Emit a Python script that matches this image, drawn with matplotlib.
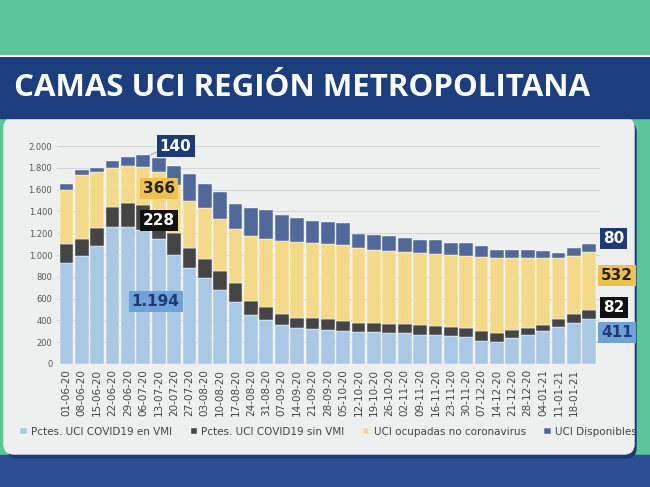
import matplotlib
matplotlib.use("Agg")
import matplotlib.pyplot as plt
from matplotlib.patches import Rectangle, FancyBboxPatch
import numpy as np

dates = ["01-06-20","08-06-20","15-06-20","22-06-20","29-06-20","06-07-20","13-07-20","20-07-20",
         "27-07-20","03-08-20","10-08-20","17-08-20","24-08-20","31-08-20","07-09-20","14-09-20",
         "21-09-20","28-09-20","05-10-20","12-10-20","19-10-20","26-10-20","02-11-20","09-11-20",
         "16-11-20","23-11-20","30-11-20","07-12-20","14-12-20","21-12-20","28-12-20","04-01-21",
         "11-01-21","18-01-21",""]
vmi = [930,990,1080,1260,1260,1230,1150,1000,880,790,680,570,450,400,360,330,320,310,300,290,290,
       280,280,270,270,260,250,210,200,240,270,300,340,380,411]
sin_vmi_top = [1100,1150,1250,1440,1480,1460,1380,1200,1060,960,850,740,580,520,460,420,420,410,390,
               380,380,370,370,360,350,340,330,300,280,310,330,360,410,460,493]
nocov_top = [1600,1730,1760,1800,1820,1810,1760,1640,1500,1430,1330,1240,1170,1150,1130,1120,1110,
             1100,1090,1060,1050,1040,1030,1020,1010,1000,990,980,970,970,970,970,970,990,1025]
total = [1650,1780,1800,1860,1900,1920,1890,1820,1740,1650,1580,1470,1430,1410,1370,1340,1310,1300,
         1290,1190,1180,1170,1160,1140,1140,1110,1110,1080,1050,1050,1050,1040,1020,1060,1105]
legend_labels = ["Pctes. UCI COVID19 en VMI","Pctes. UCI COVID19 sin VMI",
                 "UCI ocupadas no coronavirus","UCI Disponibles"]
colors = ["#a9c8e6","#454545","#f4d98a","#51699a"]

vmi = np.array(vmi); s = np.array(sin_vmi_top); n = np.array(nocov_top); t = np.array(total)
fig = plt.figure(figsize=(6.5,4.87), dpi=100)
bg = fig.add_axes([0,0,1,1]); bg.set_xlim(0,650); bg.set_ylim(487,0); bg.axis("off")
bg.add_patch(Rectangle((0,0),650,487,color="#5cc597"))
bg.add_patch(Rectangle((0,455),650,32,color="#2c4f93"))
bg.add_patch(FancyBboxPatch((8,122),628,336,boxstyle="round,pad=0,rounding_size=10",color="#1d3a74"))
bg.add_patch(FancyBboxPatch((4,118),630,336,boxstyle="round,pad=0,rounding_size=10",color="#eef0f0"))
bg.add_patch(Rectangle((0,56),650,62,color="#1d3e7c"))
bg.plot([0,650],[56,56],color="white",lw=1.5)
bg.text(14,88,"CAMAS UCI REGIÓN METROPOLITANA",color="white",fontsize=22.5,
        fontweight="bold",va="center",ha="left",family="Open Sans")

ax = fig.add_axes([0.088,0.2526,0.835,0.4475])
ax.set_facecolor("none")
x = np.arange(len(vmi))
w = 0.9
kw = dict(edgecolor="#ffffff", linewidth=0.3)
ax.bar(x, vmi, w, color=colors[0], label=legend_labels[0], **kw)
ax.bar(x, s-vmi, w, bottom=vmi, color=colors[1], label=legend_labels[1], **kw)
ax.bar(x, n-s, w, bottom=s, color=colors[2], label=legend_labels[2], **kw)
ax.bar(x, t-n, w, bottom=n, color=colors[3], label=legend_labels[3], **kw)
ax.set_ylim(0,2000); ax.set_xlim(-0.6,len(x)-0.3)
ax.set_yticks(range(0,2001,200))
ax.set_yticklabels([f"{v:,}".replace(",",".") for v in range(0,2001,200)],fontsize=6,color="#555555")
ax.yaxis.grid(True,color="#d6d6d6",lw=0.8); ax.set_axisbelow(True)
ax.set_xticks(x[:-1]); ax.set_xticklabels(dates[:-1],rotation=90,fontsize=7.5,color="#444444")
ax.tick_params(length=0)
for sp in ax.spines.values(): sp.set_visible(False)
def box(xx,yy,txt,fc,tc="white",fs=11):
    ax.text(xx,yy,txt,fontsize=fs,fontweight="bold",color=tc,ha="center",va="center",
            bbox=dict(boxstyle="square,pad=0.2",fc=fc,ec="none"),clip_on=False)
ax.plot([5.5,6.5],[1920,1990],color="#aaaaaa",lw=0.8)
box(7.1,2000,"140","#1d3a74")
box(6.0,1610,"366","#f0c24b","#222222")
box(6.0,1320,"228","#111111")
box(5.8,570,"1.194","#6fa2d6","#1d3a74")
box(35.6,1150,"80","#1d3a74")
box(35.8,810,"532","#f0c24b","#222222")
box(35.6,520,"82","#111111")
box(35.8,290,"411","#6fa2d6","#1d3a74")
ax.legend(loc="upper center",bbox_to_anchor=(0.5,-0.245),ncol=4,frameon=False,fontsize=7.5,
          handlelength=0.6,handleheight=0.6,columnspacing=1.8,handletextpad=0.4,labelcolor="#444444")
fig.savefig("out.png",dpi=100)
